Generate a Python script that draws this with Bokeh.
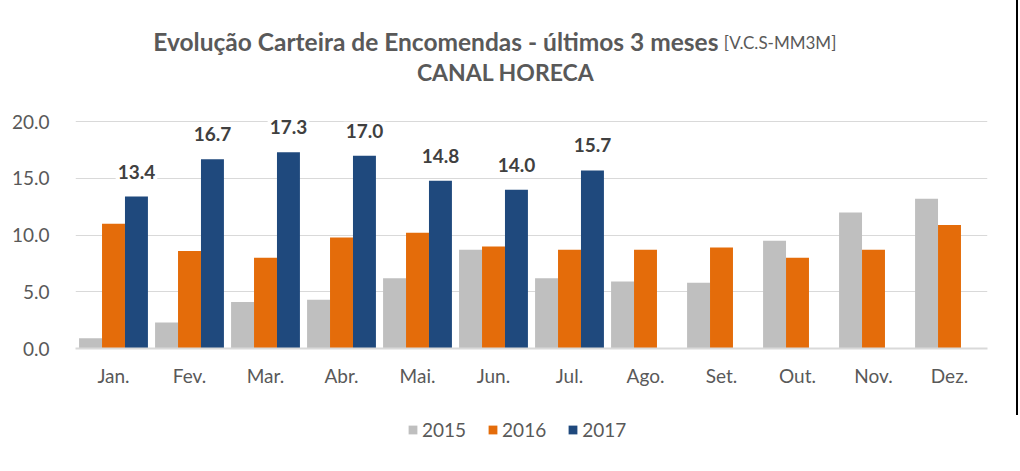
from bokeh.plotting import figure
from bokeh.layouts import column
from bokeh.models import (ColumnDataSource, FactorRange, Range1d, FixedTicker,
                          PrintfTickFormatter, Legend, LegendItem)
from bokeh.transform import dodge
from bokeh.core.properties import value
from bokeh.embed import file_html
from bokeh.resources import INLINE

# ---------------- data ----------------
months = ["Jan.", "Fev.", "Mar.", "Abr.", "Mai.", "Jun.", "Jul.",
          "Ago.", "Set.", "Out.", "Nov.", "Dez."]
v2015 = [0.9, 2.3, 4.1, 4.3, 6.2, 8.7, 6.2, 5.9, 5.8, 9.5, 12.0, 13.2]
v2016 = [11.0, 8.6, 8.0, 9.8, 10.2, 9.0, 8.7, 8.7, 8.9, 8.0, 8.7, 10.9]
v2017 = [13.4, 16.7, 17.3, 17.0, 14.8, 14.0, 15.7]
years = ["2015", "2016", "2017"]
y_ticks = [0, 5, 10, 15, 20]

title_main = "Evolução Carteira de Encomendas - últimos 3 meses"
title_tag = "[V.C.S-MM3M]"
subtitle = "CANAL HORECA"

# ---------------- style ----------------
C2015 = "#BFBFBF"
C2016 = "#E46C0A"
C2017 = "#1F497D"
TXT = "#595959"
GRID = "#D9D9D9"
FONT = "Lato"
EDGE = {"border-right": "2px solid #000000"}

src_a = ColumnDataSource(dict(month=months, v2015=v2015, v2016=v2016))
src_b = ColumnDataSource(dict(month=months[:len(v2017)], v2017=v2017,
                              lbl=[f"{v:.1f}" for v in v2017]))

p = figure(width=1018, height=415, output_backend="svg", toolbar_location=None,
           x_range=FactorRange(*months, range_padding=0, factor_padding=0),
           y_range=Range1d(0, 30.69),
           min_border_left=75, min_border_right=31, min_border_top=0,
           min_border_bottom=67, styles=EDGE)
p.outline_line_color = None
p.background_fill_color = "white"
p.border_fill_color = "white"

W = 0.302
r1 = p.vbar(x=dodge("month", -W, range=p.x_range), top="v2015", width=W,
            source=src_a, color=C2015, line_color=None)
r2 = p.vbar(x=dodge("month", 0, range=p.x_range), top="v2016", width=W,
            source=src_a, color=C2016, line_color=None)
r3 = p.vbar(x=dodge("month", W, range=p.x_range), top="v2017", width=W,
            source=src_b, color=C2017, line_color=None)

p.text(x=dodge("month", W, range=p.x_range), y="v2017", text="lbl", source=src_b,
       y_offset=-25, text_align="center", text_baseline="middle",
       text_font=value(FONT), text_font_style="bold", text_font_size="19px",
       text_color="#404040", background_fill_color="white",
       padding=2)

# titles (synthetic x coordinates on the categorical range)
p.text(x=[8.46], y=[27.06], text=[title_main], text_align="right",
       text_baseline="alphabetic", text_font=value(FONT), text_font_style="bold",
       text_font_size="24.5px", text_color=TXT)
p.text(x=[8.53], y=[27.0], text=[title_tag], text_align="left",
       text_baseline="alphabetic", text_font=value(FONT), text_font_size="17px",
       text_color=TXT)
p.text(x=[5.66], y=[24.38], text=[subtitle], text_align="center",
       text_baseline="alphabetic", text_font=value(FONT), text_font_style="bold",
       text_font_size="23px", text_color=TXT)

# axes
p.yaxis.ticker = FixedTicker(ticks=y_ticks)
p.yaxis.formatter = PrintfTickFormatter(format="%.1f")
p.yaxis.axis_line_color = None
p.yaxis.major_tick_line_color = None
p.yaxis.minor_tick_line_color = None
p.yaxis.major_label_standoff = 20
p.yaxis.major_label_text_font = FONT
p.yaxis.major_label_text_font_size = "19px"
p.yaxis.major_label_text_color = TXT

p.xaxis.axis_line_color = GRID
p.xaxis.axis_line_width = 2
p.xaxis.major_tick_line_color = None
p.xaxis.minor_tick_line_color = None
p.xaxis.major_label_standoff = 9
p.xaxis.major_label_text_font = FONT
p.xaxis.major_label_text_font_size = "19px"
p.xaxis.major_label_text_color = TXT

p.xgrid.grid_line_color = None
p.ygrid.ticker = FixedTicker(ticks=y_ticks[1:])
p.ygrid.grid_line_color = GRID
p.ygrid.grid_line_width = 1

# ---------------- legend strip ----------------
q = figure(width=1018, height=56, output_backend="svg", toolbar_location=None,
           x_range=Range1d(0, 1), y_range=Range1d(0, 1),
           x_axis_location=None, y_axis_location=None,
           min_border_left=75, min_border_right=31, min_border_top=0,
           min_border_bottom=0)
q.grid.visible = False
q.outline_line_color = None
q.background_fill_color = "white"
q.border_fill_color = "white"
colors = [C2015, C2016, C2017]
items = []
for yr, c in zip(years, colors):
    rr = q.vbar(x=[0.5], top=[0], bottom=[0], width=0, color=c, line_color=None)
    items.append(LegendItem(label=yr, renderers=[rr]))

legend = Legend(items=items, orientation="horizontal", location=(332, 30),
                glyph_width=11, glyph_height=11, label_standoff=4, spacing=21,
                padding=0, margin=0, border_line_color=None,
                background_fill_alpha=0,
                label_text_font=FONT, label_text_font_size="19px",
                label_text_color=TXT)
q.add_layout(legend, "center")

layout = column(p, q, spacing=0)
open("out.html", "w").write(file_html(layout, INLINE))
